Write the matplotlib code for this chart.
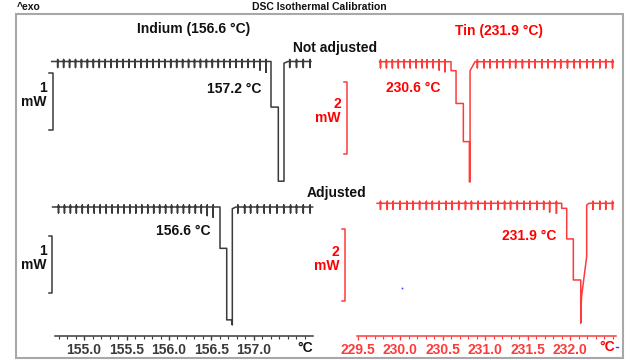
import numpy as np
import matplotlib
matplotlib.use('Agg')
import matplotlib.pyplot as plt
from matplotlib.patches import Rectangle

plt.rcParams['font.family'] = ['Liberation Sans', 'DejaVu Sans']
plt.rcParams['font.weight'] = 'bold'

W, H = 640, 360

# ---------------- data (°C, heat flow in mW relative to baseline) ----------------
# Indium, not adjusted
in_raw_range = [154.62, 157.67]
in_raw_steps_pre = [154.69, 154.76, 154.83, 154.90, 154.97, 155.04, 155.11, 155.18, 155.25,
                    155.32, 155.39, 155.46, 155.53, 155.60, 155.67, 155.74, 155.81, 155.88,
                    155.95, 156.02, 156.09, 156.16, 156.23, 156.30, 156.37, 156.44, 156.51,
                    156.58, 156.65, 156.72, 156.79, 156.86, 156.93, 157.00, 157.07, 157.14]
in_raw_tail = [-0.15, -0.19]
in_raw_peak_T = [157.20, 157.20, 157.286, 157.286, 157.353, 157.353, 157.40]
in_raw_peak_mW = [0.0, -0.80, -0.80, -2.10, -2.10, -0.03, 0.0]
in_raw_steps_post = [157.42, 157.50, 157.58, 157.66]

# Indium, adjusted
in_adj_range = [154.63, 157.69]
in_adj_steps_pre = [154.70, 154.77, 154.84, 154.91, 154.98, 155.05, 155.12, 155.19, 155.26,
                    155.33, 155.40, 155.47, 155.54, 155.61, 155.68, 155.75, 155.82, 155.89,
                    155.96, 156.03, 156.10, 156.17, 156.24, 156.31, 156.38, 156.45, 156.52]
in_adj_tail = [-0.15, -0.18]
in_adj_peak_T = [156.60, 156.60, 156.679, 156.679, 156.738, 156.745, 156.745, 156.788]
in_adj_peak_mW = [0.0, -0.725, -0.725, -1.98, -1.98, -2.07, -0.03, 0.0]
in_adj_steps_post = [156.81, 156.89, 156.96, 157.04, 157.12, 157.19, 157.27, 157.35,
                     157.43, 157.50, 157.58, 157.66]

# Tin, not adjusted
sn_raw_range = [229.76, 232.51]
sn_raw_steps_pre = [229.77, 229.84, 229.91, 229.98, 230.05, 230.12, 230.19, 230.26,
                    230.32, 230.39, 230.46, 230.53]
sn_raw_tail = [-0.23, -0.28]
sn_raw_peak_T = [230.60, 230.60, 230.659, 230.659, 230.745, 230.745, 230.816, 230.816,
                 230.824, 230.824, 230.882]
sn_raw_peak_mW = [0.0, -0.25, -0.25, -1.16, -1.16, -2.22, -2.22, -3.34, -3.34, -0.25, 0.0]
sn_raw_steps_post = [230.91, 230.99, 231.06, 231.14, 231.21, 231.29, 231.36, 231.44,
                     231.52, 231.59, 231.67, 231.74, 231.82, 231.89, 231.97, 232.05,
                     232.12, 232.20, 232.27, 232.35, 232.42, 232.50]

# Tin, adjusted
sn_adj_range = [229.73, 232.51]
sn_adj_steps_pre = [229.77, 229.85, 229.92, 230.00, 230.08, 230.15, 230.23, 230.31,
                    230.38, 230.46, 230.54, 230.61, 230.69, 230.77, 230.84, 230.92,
                    231.00, 231.07, 231.15, 231.23, 231.30, 231.38, 231.46, 231.53,
                    231.61, 231.69, 231.76, 231.84]
sn_adj_tail = [-0.24, -0.28]
sn_adj_peak_T = [231.902, 231.902, 231.961, 231.961, 232.039, 232.039, 232.126, 232.126,
                 232.135, 232.196, 232.196, 232.224]
sn_adj_peak_mW = [0.0, -0.14, -0.14, -0.99, -0.99, -2.13, -2.13, -3.33, -2.60, -1.48,
                  -0.05, 0.0]
sn_adj_steps_post = [232.27, 232.35, 232.42, 232.50]

# step-spike height / depth (mW)
in_spike = [0.035, -0.105]
sn_spike = [0.055, -0.17]

# scale bars (mW)
in_scale = 1.0
sn_scale = 2.0

# axis ticks
in_ticks = [155.0, 155.5, 156.0, 156.5, 157.0]
in_tick_labels = ['155.0', '155.5', '156.0', '156.5', '157.0']
sn_ticks = [229.5, 230.0, 230.5, 231.0, 231.5, 232.0]
sn_tick_labels = ['229.5', '230.0', '230.5', '231.0', '231.5', '232.0']

# ---------------- styles ----------------
BLACK_LINE = '#3a3a3a'
RED_LINE = '#ff3a3a'
RED_TEXT = '#ff0000'
BLACK_TEXT = '#111111'


def build_curve(rng, pre, tail, peak_T, peak_mW, post, spike):
    up, down = spike
    xs, ys = [rng[0]], [0.0]
    n = len(pre)
    for i, t in enumerate(pre):
        k = i - (n - len(tail))
        d = tail[k] if k >= 0 else down
        xs += [t, t, t, t]
        ys += [0.0, up, d, 0.0]
    xs += list(peak_T)
    ys += list(peak_mW)
    for t in post:
        xs += [t, t, t, t]
        ys += [0.0, up, down, 0.0]
    xs.append(rng[1])
    ys.append(0.0)
    return xs, ys


def fx(px):
    return px / W


def fy(py):
    return 1 - py / H


fig = plt.figure(figsize=(6.4, 3.6), dpi=100)

# axes rectangles in pixel units: (left, top, right, bottom)
def add_ax(l, t, r, b):
    return fig.add_axes([fx(l), fy(b), (r - l) / W, (b - t) / H])

ax_tl = add_ax(20, 14, 318, 185)
ax_bl = add_ax(20, 185, 318, 336)
ax_tr = add_ax(322, 14, 620, 185)
ax_br = add_ax(322, 185, 620, 336)

in_xlim = (154.247, 157.753)
sn_xlim = (229.082, 232.588)

for ax in (ax_tl, ax_bl, ax_tr, ax_br):
    ax.patch.set_alpha(0)
    for s in ax.spines.values():
        s.set_visible(False)
    ax.set_yticks([])

for ax in (ax_tl, ax_tr):
    ax.set_xticks([])

ax_tl.set_xlim(*in_xlim); ax_bl.set_xlim(*in_xlim)
ax_tr.set_xlim(*sn_xlim); ax_br.set_xlim(*sn_xlim)
ax_tl.set_ylim(-2.167, 0.833)
ax_bl.set_ylim(-2.263, 0.386)
ax_tr.set_ylim(-3.425, 1.325)
ax_br.set_ylim(-3.686, 0.508)

# curves
x, y = build_curve(in_raw_range, in_raw_steps_pre, in_raw_tail, in_raw_peak_T,
                   in_raw_peak_mW, in_raw_steps_post, in_spike)
ax_tl.plot(x, y, color=BLACK_LINE, lw=1.1, clip_on=False)
x, y = build_curve(in_adj_range, in_adj_steps_pre, in_adj_tail, in_adj_peak_T,
                   in_adj_peak_mW, in_adj_steps_post, in_spike)
ax_bl.plot(x, y, color=BLACK_LINE, lw=1.1, clip_on=False)
x, y = build_curve(sn_raw_range, sn_raw_steps_pre, sn_raw_tail, sn_raw_peak_T,
                   sn_raw_peak_mW, sn_raw_steps_post, sn_spike)
ax_tr.plot(x, y, color=RED_LINE, lw=1.1, clip_on=False)
x, y = build_curve(sn_adj_range, sn_adj_steps_pre, sn_adj_tail, sn_adj_peak_T,
                   sn_adj_peak_mW, sn_adj_steps_post, sn_spike)
ax_br.plot(x, y, color=RED_LINE, lw=1.1, clip_on=False)

# scale brackets
def bracket(ax, xpos, xtick, ytop, size, color):
    ax.plot([xtick, xpos, xpos, xtick], [ytop, ytop, ytop - size, ytop - size],
            color=color, lw=1.1, clip_on=False)

bracket(ax_tl, 154.632, 154.594, -0.20, in_scale, BLACK_LINE)
bracket(ax_bl, 154.627, 154.589, -0.51, in_scale, BLACK_LINE)
bracket(ax_tr, 229.373, 229.335, -0.564, sn_scale, RED_LINE)
bracket(ax_br, 229.353, 229.315, -0.714, sn_scale, RED_LINE)

# bottom axes
def style_bottom(ax, bounds, ticks, labels, minor, color):
    ax.spines['bottom'].set_visible(True)
    ax.spines['bottom'].set_bounds(*bounds)
    ax.spines['bottom'].set_color(color)
    ax.spines['bottom'].set_linewidth(1.1)
    ax.set_xticks(ticks)
    ax.set_xticklabels(labels)
    ax.set_xticks(minor, minor=True)
    ax.tick_params(axis='x', which='major', direction='out', length=3, width=1,
                   color=color, labelcolor=color, labelsize=10, pad=2)
    ax.tick_params(axis='x', which='minor', direction='out', length=2, width=0.8,
                   color=color)
    for lab in ax.get_xticklabels():
        lab.set_fontweight('bold')

in_minor = [round(154.7 + 0.1 * i, 1) for i in range(30)]
sn_minor = [round(229.5 + 0.1 * i, 1) for i in range(31)]
style_bottom(ax_bl, (154.659, 157.694), in_ticks, in_tick_labels, in_minor, BLACK_LINE)
style_bottom(ax_br, (229.491, 232.541), sn_ticks, sn_tick_labels, sn_minor, RED_LINE)

# blue stray dot
ax_br.plot([230.024], [-2.35], 's', color='#3344ff', ms=1.2, mec='none', clip_on=False)

# frame
fig.add_artist(Rectangle((fx(16), fy(358)), 607 / W, 344 / H, transform=fig.transFigure,
                         fill=False, ec='#a8a8a8', lw=1.5))

# texts
def t(px, py, s, size=10, color=BLACK_TEXT, ha='center', va='center', **kw):
    fig.text(fx(px), fy(py), s, fontsize=size, color=color, ha=ha, va=va,
             fontweight='bold', **kw)

t(17, 6.7, '^exo', size=7.5, ha='left')
t(319.5, 6.7, 'DSC Isothermal Calibration', size=7.5)
t(194, 29, 'Indium (156.6 °C)')
t(499, 31.5, 'Tin (231.9 °C)', color=RED_TEXT)
t(335, 48.3, 'Not adjusted')
t(337, 193, 'Adjusted')

t(261.7, 89.3, '157.2 °C', ha='right')
t(386, 88.3, '230.6 °C', ha='left', color=RED_TEXT)
t(210.7, 230.7, '156.6 °C', ha='right')
t(556.7, 236, '231.9 °C', ha='right', color=RED_TEXT)

t(47, 95, '1\nmW', ha='right', multialignment='right', linespacing=1.0)
t(47, 258, '1\nmW', ha='right', multialignment='right', linespacing=1.0)
t(340.7, 110.5, '2\nmW', ha='right', multialignment='right', linespacing=1.0, color=RED_TEXT)
t(339.5, 259, '2\nmW', ha='right', multialignment='right', linespacing=1.0, color=RED_TEXT)

t(305, 347.5, '°C')
t(607, 347, '°C', color=RED_TEXT)
fig.add_artist(plt.Line2D([fx(615.5), fx(618)], [fy(346.5), fy(346.5)],
                          transform=fig.transFigure, color='#3344ff', lw=1))

fig.savefig('out.png', dpi=100)
